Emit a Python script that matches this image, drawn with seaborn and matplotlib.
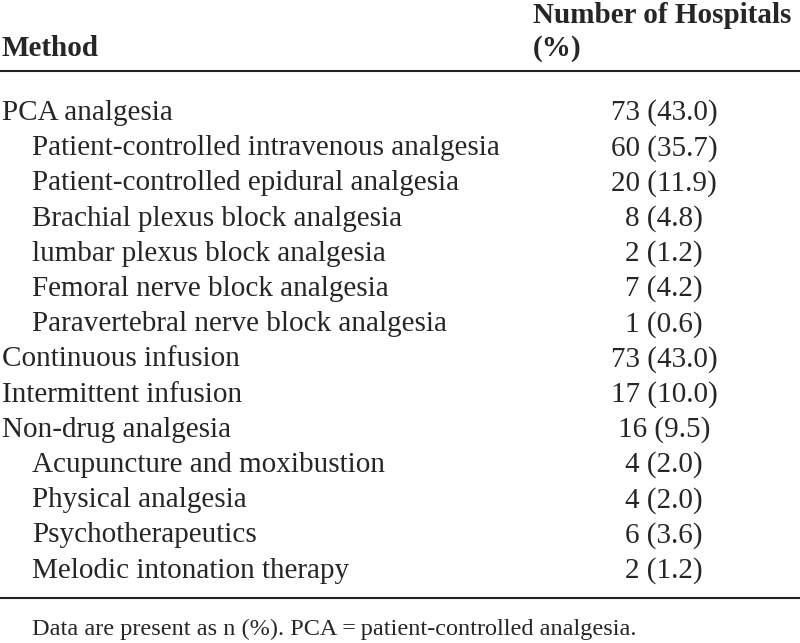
import matplotlib
matplotlib.use('Agg')
import matplotlib.pyplot as plt
import seaborn as sns

methods = ['PCA analgesia',
           'Patient-controlled intravenous analgesia',
           'Patient-controlled epidural analgesia',
           'Brachial plexus block analgesia',
           'lumbar plexus block analgesia',
           'Femoral nerve block analgesia',
           'Paravertebral nerve block analgesia',
           'Continuous infusion',
           'Intermittent infusion',
           'Non-drug analgesia',
           'Acupuncture and moxibustion',
           'Physical analgesia',
           'Psychotherapeutics',
           'Melodic intonation therapy']
indent = [0, 1, 1, 1, 1, 1, 1, 0, 0, 0, 1, 1, 1, 1]
counts = [73, 60, 20, 8, 2, 7, 1, 73, 17, 16, 4, 4, 6, 2]
percents = [43.0, 35.7, 11.9, 4.8, 1.2, 4.2, 0.6, 43.0, 10.0, 9.5, 2.0, 2.0, 3.6, 1.2]

sns.set_theme(style='white')
plt.rcParams['font.family'] = 'serif'
plt.rcParams['font.serif'] = ['Liberation Serif', 'DejaVu Serif']

fig = plt.figure(figsize=(8, 6.43), dpi=100)
ax = fig.add_axes([0, 0, 1, 1])
ax.set_xlim(0, 800)
ax.set_ylim(643, 0)
ax.axis('off')

fs = 21
ax.text(2, 56, 'Method', fontsize=fs, fontweight='bold', va='baseline', ha='left')
ax.text(533, 23, 'Number of Hospitals', fontsize=fs, fontweight='bold', va='baseline', ha='left')
ax.text(533, 56, '(%)', fontsize=fs, fontweight='bold', va='baseline', ha='left')

ax.plot([0, 800], [70.5, 70.5], color='#222222', lw=1.5)

y0 = 120
step = 35.2
for i, (m, ind, c, p) in enumerate(zip(methods, indent, counts, percents)):
    y = y0 + i * step
    ax.text(2 + 30 * ind, y, m, fontsize=fs, va='baseline', ha='left')
    ax.text(664, y, f'{c} ({p:.1f})', fontsize=fs, va='baseline', ha='center')

ax.plot([0, 800], [598, 598], color='#222222', lw=1.5)
ax.text(32, 635, 'Data are present as n (%). PCA\u2009=\u2009patient-controlled analgesia.',
        fontsize=17.5, va='baseline', ha='left')

fig.savefig('out.png', dpi=100, facecolor='white')
